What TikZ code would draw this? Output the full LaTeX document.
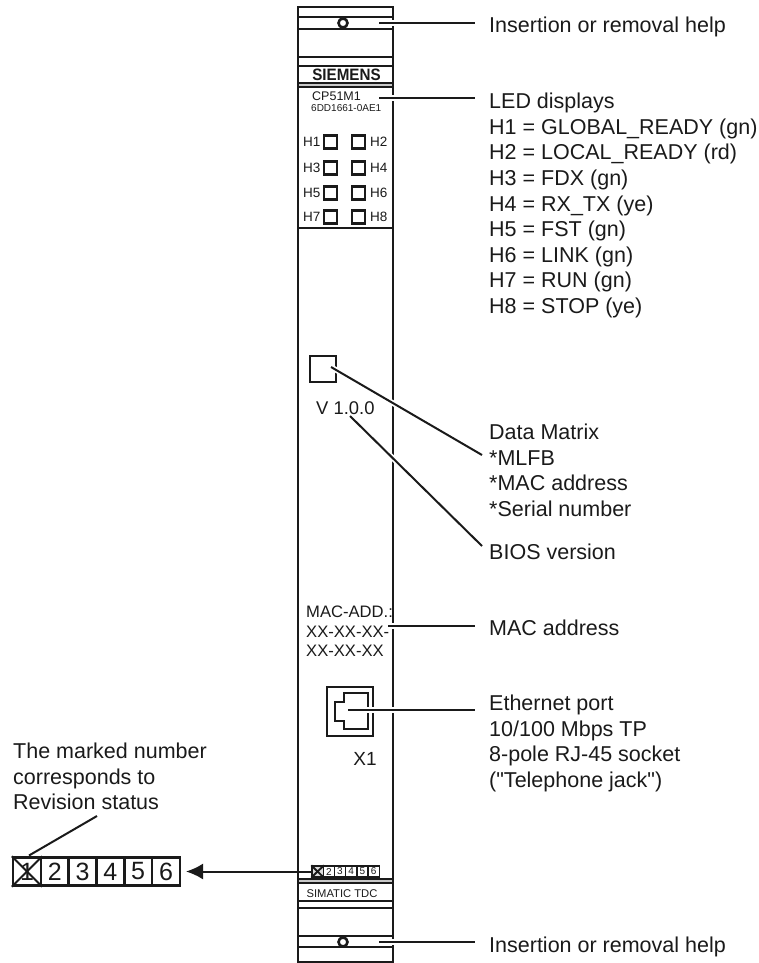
\documentclass[tikz,border=0pt]{standalone}
\usepackage{fontspec}
\setmainfont{Liberation Sans}
\newfontfamily\plainq{Liberation Sans}
\usetikzlibrary{arrows.meta}
\definecolor{ink}{HTML}{1A1A1A}
\definecolor{band}{HTML}{C8C8C8}
\newcommand{\fsz}[2]{\fontsize{#1}{#2}\selectfont}
\tikzset{
  panel/.style={draw=ink,line width=2.7pt},
  divider/.style={draw=ink,line width=2.3pt},
  ledbox/.style={draw=ink,line width=2.5pt,fill=white,minimum width=13pt,minimum height=13pt,inner sep=0pt},
  grip/.style={circle,draw=ink,line width=2.6pt,fill=white,minimum size=9pt,inner sep=0pt},
  leader/.style={draw=ink,line width=2pt,preaction={draw=white,line width=5.5pt}},
  callout/.style={anchor=north west,align=left,inner sep=0pt,text=ink,font=\fsz{21.5}{25.6}},
  small/.style={inner sep=0pt,text=ink,font=\fsz{13.5}{15}},
  cellA/.style={draw=ink,line width=1.4pt,fill=white,minimum width=11.2pt,minimum height=11pt,inner sep=0pt,font=\fsz{10}{10},text=ink},
  cellB/.style={draw=ink,line width=2.5pt,fill=white,minimum width=27.8pt,minimum height=28pt,inner sep=0pt,font=\fsz{25}{25},text=ink},
}
\begin{document}
\begin{tikzpicture}[x=1pt,y=-1pt]
\useasboundingbox (0,0) rectangle (759,963);
% panel bands
\fill[band] (298,83) rectangle (393,87);
\fill[band] (298,879) rectangle (393,883);
% outline
\draw[panel] (298,962) -- (298,7) -- (393,7) -- (393,962) -- cycle;
\foreach \yy in {17,29,57,66,83,87,228,879,883,901,908,936,947}
  \draw[divider] (298,\yy) -- (393,\yy);
% grips
\node[grip] (gripT) at (343,23) {};
\node[grip] (gripB) at (343,942) {};
% header texts
\node[inner sep=0pt,text=ink,xscale=0.92,font=\bfseries\fsz{16.5}{17}] (siemens) at (346.5,75) {SIEMENS};
\node[inner sep=0pt,anchor=west,text=ink,font=\fsz{12.5}{14}] (cpname) at (312,96) {CP51M1};
\node[inner sep=0pt,anchor=west,text=ink,font=\fsz{10}{12}] (cpcode) at (311,108) {6DD1661-0AE1};
% LEDs
\foreach \nl/\nr/\yy in {1/2/142,3/4/168,5/6/193,7/8/217}{
  \node[ledbox] (led\nl) at (330.5,\yy) {};
  \node[ledbox] (led\nr) at (358.5,\yy) {};
  \node[small,anchor=east] (ledt\nl) at (320.5,\yy) {H\nl};
  \node[small,anchor=west] (ledt\nr) at (370,\yy) {H\nr};
}
% data matrix, bios
\node[draw=ink,line width=2.6pt,minimum width=26pt,minimum height=26pt,inner sep=0pt] (matrix) at (323,369) {};
\node[inner sep=0pt,anchor=west,text=ink,font=\fsz{18.4}{20}] (bios) at (316,408) {V 1.0.0};
% mac
\node[anchor=north west,align=left,inner sep=0pt,text=ink,font=\fsz{16.6}{19.3}] (mac) at (306,606) {MAC-ADD.:\\XX-XX-XX-\\XX-XX-XX};
% RJ45
\node[draw=ink,line width=2.6pt,minimum width=46pt,minimum height=49pt,inner sep=0pt] (rj) at (350,711.5) {};
\draw[ink,line width=2.2pt] (368,693) -- (344,693) -- (344,702) -- (335,702) -- (335,721) -- (344,721) -- (344,729) -- (368,729) -- cycle;
\node[inner sep=0pt,text=ink,font=\fsz{19}{20}] (x1) at (365,759) {X1};
% strip on panel
\node[inner sep=0pt,text=ink,font=\fsz{11.2}{14}] (simatic) at (342,893.5) {SIMATIC TDC};
\node[cellA,fill=ink!15] (a1) at (317.6,871.5) {};
\draw[ink,line width=1.9pt] (a1.north west) -- (a1.south east) (a1.north east) -- (a1.south west);
\foreach \i/\xx in {2/328.8,3/340,4/351.2,5/362.4,6/373.6}
  \node[cellA] (a\i) at (\xx,871.5) {\i};
% large strip
\foreach \i/\xx in {1/27,2/54.8,3/82.6,4/110.4,5/138.2,6/166}
  \node[cellB] (b\i) at (\xx,871.5) {\i};
\draw[ink,line width=2pt] (b1.north west) -- (b1.south east) (b1.north east) -- (b1.south west);
% labels
\node[callout] (lTop) at (489,17) {Insertion or removal help};
\node[callout] (lLed) at (489,93) {LED displays\\H1 = GLOBAL\_READY (gn)\\H2 = LOCAL\_READY (rd)\\H3 = FDX (gn)\\H4 = RX\_TX (ye)\\H5 = FST (gn)\\H6 = LINK (gn)\\H7 = RUN (gn)\\H8 = STOP (ye)};
\node[callout] (lDm) at (489,424) {Data Matrix\\*MLFB\\*MAC address\\*Serial number};
\node[callout] (lBios) at (489,544) {BIOS version};
\node[callout] (lMac) at (489,620) {MAC address};
\node[callout] (lEth) at (489,695) {Ethernet port\\10/100 Mbps TP\\8-pole RJ-45 socket\\{\plainq ("Telephone jack")}};
\node[callout] (lBot) at (489,937) {Insertion or removal help};
\node[callout] (lRev) at (13,743) {The marked number\\corresponds to\\Revision status};
% connector ends
\coordinate (eTop) at (475,23);
\coordinate (sTop) at (379,23);
\coordinate (eLed) at (475,98);
\coordinate (sLed) at (379,98);
\coordinate (eDm) at (482,455);
\coordinate (sDm) at (331,367);
\coordinate (eBios) at (482,546);
\coordinate (sBios) at (350,416);
\coordinate (eMac) at (475,626);
\coordinate (sMac) at (388,626);
\coordinate (eEth) at (475,710);
\coordinate (sEth) at (348,710);
\coordinate (eBot) at (475,942);
\coordinate (sBot) at (379,942);
\coordinate (eRev) at (97,816);
\coordinate (sRev) at (29,855.5);
\coordinate (tip) at (186,871.5);
\draw[leader] (sTop) -- (eTop);
\draw[leader] (sLed) -- (eLed);
\draw[leader] (sDm) -- (eDm);
\draw[leader] (sBios) -- (eBios);
\draw[leader] (sMac) -- (eMac);
\draw[leader] (sEth) -- (eEth);
\draw[leader] (sBot) -- (eBot);
\draw[draw=ink,line width=2pt] (sRev) -- (eRev);
\draw[draw=ink,line width=2pt,-{Latex[length=17pt,width=16pt]}] (a1.west) -- (tip);
\end{tikzpicture}
\end{document}
